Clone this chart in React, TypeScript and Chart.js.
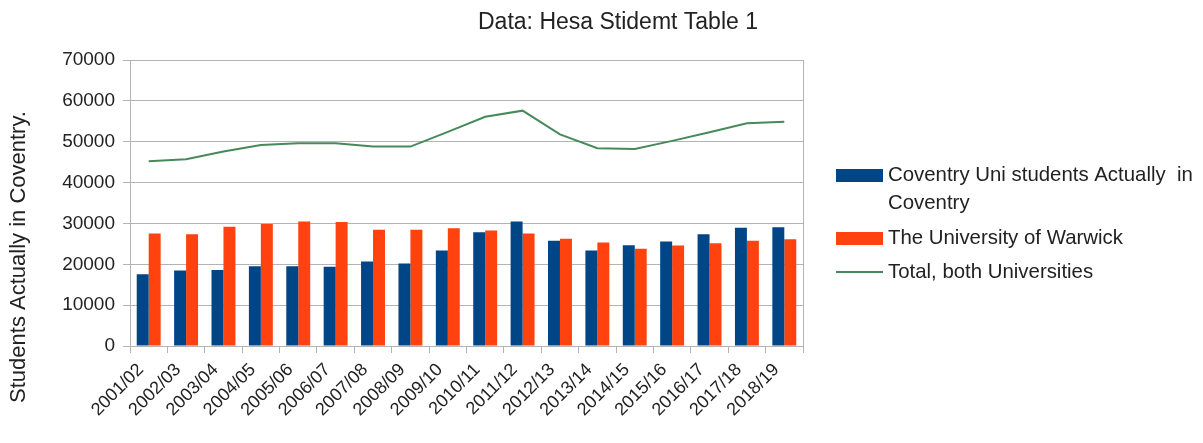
import React, { useEffect, useRef } from "react";
import { Chart, registerables } from "chart.js";

Chart.register(...registerables);

const categories = [
  "2001/02", "2002/03", "2003/04", "2004/05", "2005/06", "2006/07",
  "2007/08", "2008/09", "2009/10", "2010/11", "2011/12", "2012/13",
  "2013/14", "2014/15", "2015/16", "2016/17", "2017/18", "2018/19",
];

const coventryValues = [
  17550, 18480, 18630, 19530, 19530, 19370, 20680, 20190, 23380,
  27870, 30490, 25740, 23380, 24680, 25580, 27380, 28920, 29090,
];

const warwickValues = [
  27550, 27380, 29170, 29830, 30480, 30320, 28430, 28430, 28840,
  28280, 27550, 26230, 25340, 23780, 24600, 25170, 25740, 26150,
];

const totalValues = [
  45200, 45700, 47600, 49200, 49600, 49600, 48800, 48800, 52400,
  56100, 57600, 51800, 48400, 48200, 50200, 52300, 54500, 54900,
];

const yTicks = [0, 10000, 20000, 30000, 40000, 50000, 60000, 70000];

const seriesLabels = [
  ["Coventry Uni students Actually  in", "Coventry"],
  ["The University of Warwick"],
  ["Total, both Universities"],
];

const titleText = "Data: Hesa Stidemt Table 1";
const yTitleText = "Students Actually in Coventry.";

const FONT = "'Liberation Sans', Arial, sans-serif";
const TEXT_COLOR = "#222222";
const BLUE = "#004586";
const ORANGE = "#ff420e";
const GREEN = "#468a5a";

export default function App() {
  const canvasRef = useRef<HTMLCanvasElement | null>(null);

  useEffect(() => {
    const canvas = canvasRef.current;
    if (!canvas) return;

    const decor = {
      id: "decor",
      afterDraw(chart: any) {
        const ctx = chart.ctx;
        const a = chart.chartArea;
        ctx.save();
        // frame
        ctx.strokeStyle = "#b3b3b3";
        ctx.lineWidth = 1;
        ctx.beginPath();
        ctx.moveTo(Math.round(a.right) + 0.5, a.top);
        ctx.lineTo(Math.round(a.right) + 0.5, a.bottom);
        ctx.stroke();
        // title
        ctx.fillStyle = TEXT_COLOR;
        ctx.font = `23px ${FONT}`;
        ctx.textAlign = "center";
        ctx.textBaseline = "middle";
        ctx.fillText(titleText, 618, 23);
        // y title
        ctx.save();
        ctx.translate(19, 257);
        ctx.rotate(-Math.PI / 2);
        ctx.font = `22px ${FONT}`;
        ctx.fillText(yTitleText, 0, 0);
        ctx.restore();
        // x labels
        const xs = chart.scales.x;
        ctx.font = `18px ${FONT}`;
        ctx.textAlign = "right";
        ctx.textBaseline = "middle";
        categories.forEach((c, i) => {
          const px = xs.getPixelForValue(i);
          ctx.save();
          ctx.translate(px - 8, a.bottom + 21);
          ctx.rotate(-Math.PI / 4);
          ctx.fillText(c, 0, 0);
          ctx.restore();
        });
        // legend
        const colors = [BLUE, ORANGE, GREEN];
        const ys = [[175, 203], [238], [272]];
        ctx.font = `20.4px ${FONT}`;
        ctx.textAlign = "left";
        for (let i = 0; i < 3; i++) {
          ctx.fillStyle = colors[i];
          if (i < 2) {
            ctx.fillRect(836, ys[i][0] - 6, 47, 13);
          } else {
            ctx.strokeStyle = GREEN;
            ctx.lineWidth = 2;
            ctx.beginPath();
            ctx.moveTo(836, ys[i][0]);
            ctx.lineTo(883, ys[i][0]);
            ctx.stroke();
          }
          ctx.fillStyle = TEXT_COLOR;
          seriesLabels[i].forEach((t, j) => {
            ctx.fillText(t, 888, ys[i][j]);
          });
        }
        ctx.restore();
      },
    };

    const chart = new Chart(canvas, {
      type: "bar",
      data: {
        labels: categories,
        datasets: [
          {
            type: "line",
            label: seriesLabels[2].join(" "),
            data: totalValues,
            borderColor: GREEN,
            backgroundColor: GREEN,
            borderWidth: 2,
            pointRadius: 0,
            tension: 0,
            order: 0,
          },
          {
            label: seriesLabels[0].join(" "),
            data: coventryValues,
            backgroundColor: BLUE,
            categoryPercentage: 0.64,
            barPercentage: 1.0,
            order: 1,
          },
          {
            label: seriesLabels[1].join(" "),
            data: warwickValues,
            backgroundColor: ORANGE,
            categoryPercentage: 0.64,
            barPercentage: 1.0,
            order: 1,
          },
        ],
      },
      plugins: [decor],
      options: {
        responsive: false,
        animation: false,
        events: [],
        layout: { padding: { left: 0, top: 60, right: 400, bottom: 0 } },
        plugins: {
          legend: { display: false },
          title: { display: false },
          tooltip: { enabled: false },
        },
        scales: {
          x: {
            offset: true,
            grid: {
              offset: true,
              drawOnChartArea: false,
              drawTicks: true,
              tickLength: 7,
              color: "#b3b3b3",
            },
            border: { color: "#b3b3b3" },
            ticks: {
              display: false,
              autoSkip: false,
            },
            afterFit(scale: any) {
              scale.height = 97;
            },
          },
          y: {
            min: 0,
            max: 70000,
            afterBuildTicks(scale: any) {
              scale.ticks = yTicks.map((v) => ({ value: v }));
            },
            grid: {
              color: "#b3b3b3",
              tickLength: 7,
            },
            border: { color: "#b3b3b3" },
            ticks: {
              color: TEXT_COLOR,
              font: { family: FONT, size: 19 },
              padding: 8,
              callback: (v: any) => String(v),
            },
            afterFit(scale: any) {
              scale.width = 130;
            },
          },
        },
      },
    } as any);

    return () => chart.destroy();
  }, []);

  return (
    <div style={{ position: "fixed", left: 0, top: 0, width: 1203, height: 443, background: "#fff" }}>
      <canvas ref={canvasRef} width={1203} height={443} style={{ width: 1203, height: 443 }} />
    </div>
  );
}
